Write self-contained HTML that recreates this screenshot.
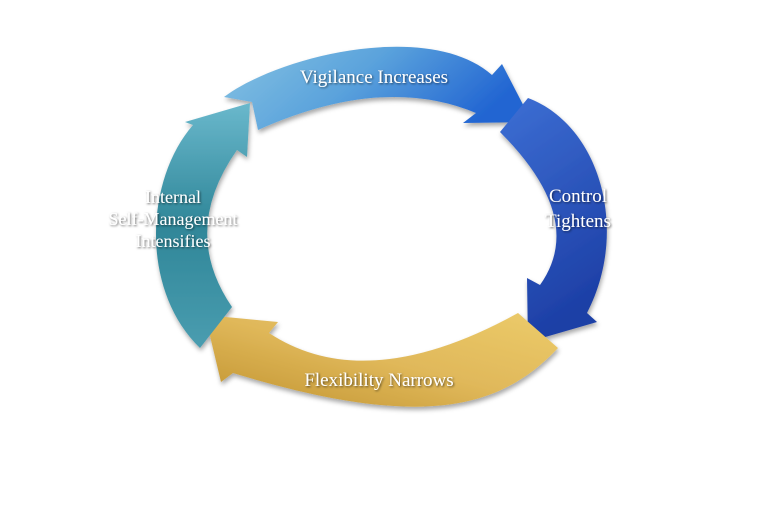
<!DOCTYPE html>
<html><head><style>
html,body{margin:0;padding:0;background:#fff;}
svg{display:block;}
text{font-family:"Liberation Serif",serif;fill:#fff;}
</style></head><body>
<svg width="768" height="512" viewBox="0 0 768 512">
<defs>
<linearGradient id="gt" x1="0" y1="0" x2="1" y2="0.3"><stop offset="0" stop-color="#86c3e2"/><stop offset="0.5" stop-color="#5aa2dc"/><stop offset="1" stop-color="#2265d2"/></linearGradient>
<linearGradient id="gr" x1="0" y1="0" x2="0.3" y2="1"><stop offset="0" stop-color="#3d6fd4"/><stop offset="1" stop-color="#1d3fa6"/></linearGradient>
<linearGradient id="gb" x1="1" y1="0" x2="0" y2="1"><stop offset="0" stop-color="#eccb6a"/><stop offset="0.5" stop-color="#e0b85a"/><stop offset="1" stop-color="#c0922e"/></linearGradient>
<linearGradient id="gl" x1="0" y1="0" x2="0" y2="1"><stop offset="0" stop-color="#6ab8cc"/><stop offset="0.5" stop-color="#2f8698"/><stop offset="1" stop-color="#4a9db0"/></linearGradient>
<filter id="sh" x="-10%" y="-10%" width="120%" height="130%"><feDropShadow dx="1" dy="3" stdDeviation="2.5" flood-color="#000" flood-opacity="0.35"/></filter>
<filter id="ts"><feDropShadow dx="1" dy="1" stdDeviation="1" flood-color="#000" flood-opacity="0.6"/></filter>
</defs>
<g filter="url(#sh)">
<path d="M224,97 C280,55 430,20 492,75 L502,64 L532,122 L463,123 L476,113 Q383,74 258,130 L252,102 Z" fill="url(#gt)"/>
<path d="M528,98 C600,125 630,230 587,313 L597,322 L528,342 L527,278 L540,285 Q587,219 500,132 Z" fill="url(#gr)"/>
<path d="M558,348 C500,410 420,430 233,373 L221,382 L205,315 L278,322 L269,333 Q366,397 518,313 Z" fill="url(#gb)"/>
<path d="M200,348 C140,290 145,180 193,125 L185,122 L250,103 L247,157 L237,150 Q180,231 232,307 Z" fill="url(#gl)"/>
</g>
<g filter="url(#ts)">
<text x="374" y="83" font-size="19" text-anchor="middle">Vigilance Increases</text>
<text x="578" y="202" font-size="19" text-anchor="middle">Control</text>
<text x="578" y="227" font-size="19" text-anchor="middle">Tightens</text>
<text x="379" y="386" font-size="19" text-anchor="middle">Flexibility Narrows</text>
<text x="173" y="203" font-size="18" text-anchor="middle">Internal</text>
<text x="173" y="225" font-size="18" text-anchor="middle">Self-Management</text>
<text x="173" y="247" font-size="18" text-anchor="middle">Intensifies</text>
</g>
</svg>
</body></html>
